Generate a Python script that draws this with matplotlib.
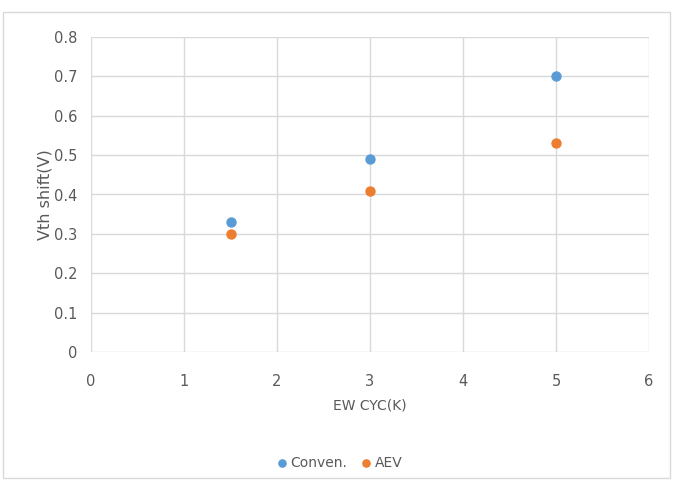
import matplotlib.pyplot as plt
from matplotlib.patches import Rectangle

cycles = [1.5, 3, 5]
conven = [0.33, 0.49, 0.70]
aev = [0.30, 0.41, 0.53]

plt.rcParams['font.family'] = ['DejaVu Sans']

fig = plt.figure(figsize=(6.73, 4.86), dpi=100)
# outer chart border, Excel style
fig.patches.append(Rectangle((3 / 673, 1 - 478 / 486), 667 / 673, 466 / 486,
                             transform=fig.transFigure, fill=False,
                             edgecolor='#d9d9d9', linewidth=1))

ax = fig.add_axes([91 / 673, 1 - 352 / 486, 558 / 673, 315 / 486])
ax.scatter(cycles, conven, s=42, color='#5b9bd5', label='Conven.', zorder=3)
ax.scatter(cycles, aev, s=42, color='#ed7d31', label='AEV', zorder=3)

ax.set_xlim(0, 6)
ax.set_ylim(0, 0.8)
ax.set_xticks(range(7))
ax.set_yticks([i / 10 for i in range(9)])
ax.set_yticklabels(['0'] + ['%.1f' % (i / 10) for i in range(1, 9)])
ax.grid(True, color='#d9d9d9', linewidth=1)
ax.set_axisbelow(True)
for side in ax.spines:
    ax.spines[side].set_visible(False)
ax.tick_params(length=0, colors='#595959', labelsize=10.5)
ax.tick_params(axis='y', pad=10)
ax.tick_params(axis='x', pad=16)

ax.set_xlabel('EW CYC(K)', color='#595959', fontsize=10, labelpad=7)
ax.set_ylabel('Vth shift(V)', color='#595959', fontsize=11.5, labelpad=1)

fig.legend(loc='center', bbox_to_anchor=(0.505, 1 - 463 / 486), ncol=2, frameon=False,
           handlelength=0.6, handletextpad=0.35, columnspacing=1.0, fontsize=10,
           markerscale=0.8, labelcolor='#595959')

fig.savefig('out.png', dpi=100)
